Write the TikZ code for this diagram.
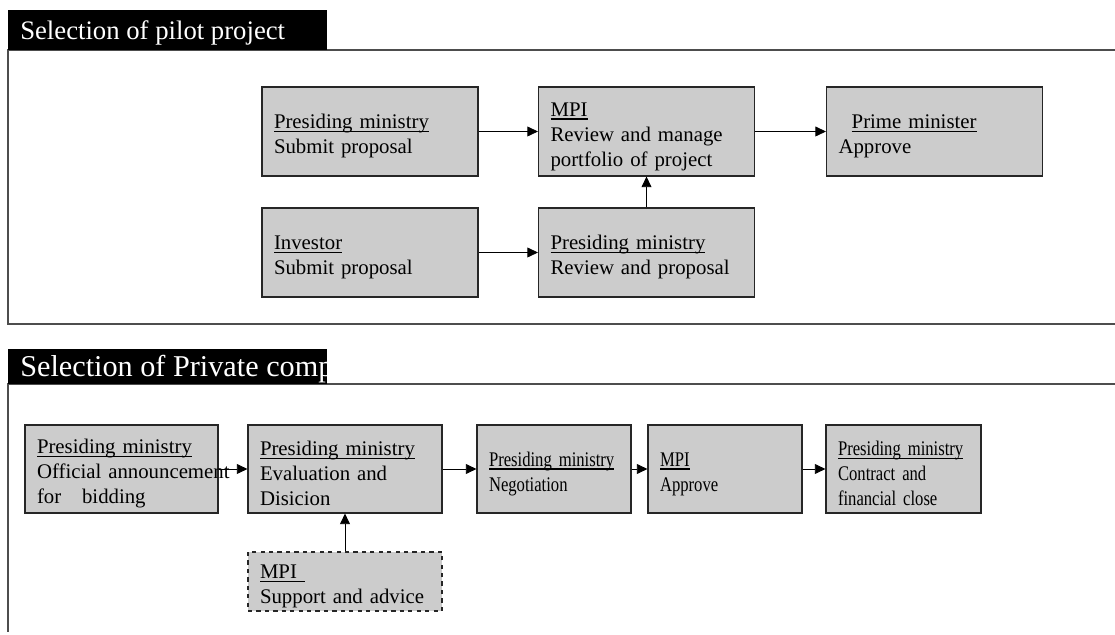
\documentclass[tikz,border=0pt]{standalone}
\usepackage{fontspec}
\setmainfont{Liberation Serif}
\newfontfamily\narrowserif[FakeStretch=0.8]{Liberation Serif}
\usetikzlibrary{arrows.meta}

\definecolor{boxgray}{HTML}{CCCCCC}
\definecolor{framegray}{HTML}{4D4D4D}

% underlined role name, rule close under the baseline
\newcommand{\role}[1]{\rule{0pt}{17pt}\setbox0\hbox{#1}\rlap{\rule[-2.6pt]{\wd0}{1.2pt}}\box0}

\tikzset{
  box/.style={draw=black!85, line width=0.8pt, fill=boxgray, minimum height=2.225cm,
    inner xsep=0.3cm, inner ysep=0pt, align=left, font=\fontsize{14.8}{17.8}\selectfont},
  narrowbox/.style={box, font=\narrowserif\fontsize{14.8}{17.8}\selectfont},
  dashbox/.style={box, dashed, minimum height=1.475cm},
  arr/.style={-{Triangle[length=7.5pt,width=7pt]}, line width=0.6pt},
  frame/.style={draw=framegray, line width=1.2pt},
  headtext/.style={text=white, anchor=base west, inner sep=0pt},
}

\begin{document}
\begin{tikzpicture}
\useasboundingbox (0,0) rectangle (27.875,15.875);

% first panel: frame and title bar
\draw[frame] (27.875,14.625) -- (0.2,14.625) -- (0.2,7.775) -- (27.875,7.775);
\fill[black] (0.2,14.625) rectangle (8.175,15.625);
\node[headtext, font=\fontsize{19}{22}\selectfont] (title1) at (0.5,14.875) {Selection of pilot project};

% second panel
\draw[frame] (27.875,6.275) -- (0.2,6.275) -- (0.2,0.075);
\fill[black] (0.2,6.275) rectangle (8.175,7.15);
\begin{scope}
\clip (0.2,6.275) rectangle (8.175,7.15);
\node[headtext, font=\fontsize{21.5}{24}\selectfont] (title2) at (0.5,6.45) {Selection of Private comp};
\end{scope}

% pilot project boxes
\node[box, text width=4.8cm] (pmsub) at (9.25,12.5875) {\role{Presiding ministry}\\Submit proposal};
\node[box, text width=4.8cm] (mpi) at (16.1625,12.5875) {\role{MPI}\\Review and manage\\portfolio of project};
\node[box, text width=4.8cm] (prime) at (23.3625,12.5875) {\hspace*{0.33cm}\role{Prime minister}\\Approve};
\node[box, text width=4.8cm] (inv) at (9.25,9.5625) {\role{Investor}\\Submit proposal};
\node[box, text width=4.8cm] (pmrev) at (16.1625,9.5625) {\role{Presiding ministry}\\Review and proposal};

\draw[arr] (pmsub) -- (mpi);
\draw[arr] (mpi) -- (prime);
\draw[arr] (inv) -- (pmrev);
\draw[arr] (pmrev) -- (mpi);

% private company boxes
\node[box, text width=4.225cm, minimum height=2.2cm] (ann) at (3.0375,4.15) {\role{Presiding ministry}\\\mbox{Official announcement}\\for\quad bidding};
\node[box, text width=4.25cm, minimum height=2.2cm] (eval) at (8.625,4.15) {\role{Presiding ministry}\\Evaluation and\\Disicion};
\node[narrowbox, text width=3.25cm, minimum height=2.2cm] (nego) at (13.85,4.15) {\role{Presiding ministry}\\Negotiation};
\node[narrowbox, text width=3.25cm, minimum height=2.2cm] (mpiok) at (18.125,4.15) {\role{MPI}\\Approve};
\node[narrowbox, text width=3.275cm, minimum height=2.2cm] (close) at (22.5875,4.15) {\role{Presiding ministry}\\Contract and\\financial close};
\node[dashbox, text width=4.25cm] (adv) at (8.625,1.3375) {\role{MPI\hspace{0.4em}}\\Support and advice};

\draw[arr] (ann) -- (eval);
\draw[arr] (eval) -- (nego);
\draw[arr] (nego) -- (mpiok);
\draw[arr] (mpiok) -- (close);
\draw[arr] (adv) -- (eval);
\end{tikzpicture}
\end{document}
